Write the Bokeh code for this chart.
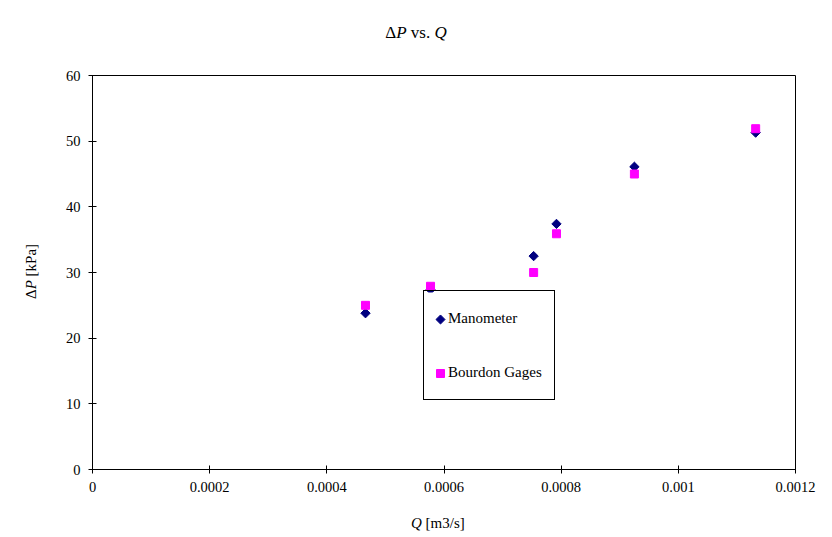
import numpy as np
from bokeh.plotting import figure
from bokeh.layouts import column, row
from bokeh.models import (Range1d, FixedTicker, CustomJSTickFormatter, Legend,
                          LegendItem, Div)
from bokeh.embed import file_html
from bokeh.resources import INLINE

# ---- data ----
q_flow = [0.000466, 0.000577, 0.000753, 0.000792, 0.000925, 0.001132]
dp_manometer = [23.8, 27.4, 32.5, 37.4, 46.1, 51.3]
dp_bourdon = [25.0, 27.9, 30.0, 35.9, 45.0, 51.9]
x_ticks = [0, 0.0002, 0.0004, 0.0006, 0.0008, 0.001, 0.0012]
y_ticks = [0, 10, 20, 30, 40, 50, 60]
series_names = ["Manometer", "Bourdon Gages"]

SERIF = "Liberation Serif"
NAVY = "#000080"
MAGENTA = "#FF00FF"

TITLE_H, XLAB_H, YLAB_W = 50, 30, 50
FIG_W, FIG_H = 832 - YLAB_W, 537 - TITLE_H - XLAB_H
FRAME_W, FRAME_H = 703, 394

p = figure(width=FIG_W, height=FIG_H, output_backend="svg", toolbar_location=None,
           x_range=Range1d(0, 0.0012), y_range=Range1d(0, 60),
           min_border_left=42, min_border_right=37,
           min_border_top=25, min_border_bottom=FIG_H - 25 - FRAME_H)
p.background_fill_color = "white"
p.border_fill_color = "white"
p.outline_line_color = "black"
p.outline_line_width = 1
p.outline_line_alpha = 1.0
p.grid.visible = False

for ax in (p.xaxis[0], p.yaxis[0]):
    ax.axis_label = None
    ax.axis_line_color = "black"
    ax.major_tick_line_color = "black"
    ax.minor_tick_line_color = None
    ax.major_tick_in = 4
    ax.major_tick_out = 4
    ax.major_label_text_font = SERIF
    ax.major_label_text_font_size = "14.5px"
    ax.major_label_text_color = "black"
    ax.major_label_standoff = 8

p.xaxis[0].ticker = FixedTicker(ticks=x_ticks)
p.yaxis[0].ticker = FixedTicker(ticks=y_ticks)
p.xaxis[0].formatter = CustomJSTickFormatter(
    code="return tick == 0 ? '0' : String(Number(tick.toPrecision(6)));")

# data series
p.scatter(q_flow, dp_manometer, marker="square", angle=np.pi / 4, size=6.6,
          fill_color=NAVY, line_color=NAVY)
p.scatter(q_flow, dp_bourdon, marker="square", size=8,
          fill_color=MAGENTA, line_color=MAGENTA)

# legend: white box and keys drawn in frame-pixel space above the data,
# border and labels from Bokeh's Legend
LEG_X, LEG_Y = 331, 69        # bottom-left of legend box, frame pixels
LEG_PAD, ITEM_H, LEG_SP, LEG_W = 12, 30, 24, 132
leg_h = 2 * LEG_PAD + 2 * ITEM_H + LEG_SP

p.extra_x_ranges = {"px_x": Range1d(0, FRAME_W)}
p.extra_y_ranges = {"px_y": Range1d(0, FRAME_H)}
p.quad(left=[LEG_X], right=[LEG_X + LEG_W], bottom=[LEG_Y], top=[LEG_Y + leg_h],
       fill_color="white", line_color=None, x_range_name="px_x", y_range_name="px_y")
key_x = LEG_X + LEG_PAD + 5
key1_y = LEG_Y + leg_h - LEG_PAD - ITEM_H / 2
key2_y = key1_y - ITEM_H - LEG_SP
p.scatter([key_x], [key1_y], marker="square", angle=np.pi / 4, size=6.4,
          fill_color=NAVY, line_color=NAVY, x_range_name="px_x", y_range_name="px_y")
p.scatter([key_x], [key2_y], marker="square", size=8,
          fill_color=MAGENTA, line_color=MAGENTA, x_range_name="px_x", y_range_name="px_y")

dummy_man = p.scatter([], [], marker="square", fill_alpha=0, line_alpha=0)
dummy_bou = p.scatter([], [], marker="square", fill_alpha=0, line_alpha=0)
legend = Legend(items=[LegendItem(label=series_names[0], renderers=[dummy_man]),
                       LegendItem(label=series_names[1], renderers=[dummy_bou])],
                location=(LEG_X, LEG_Y), orientation="vertical",
                padding=LEG_PAD, spacing=LEG_SP, glyph_width=10, glyph_height=ITEM_H,
                label_height=ITEM_H, label_standoff=2,
                label_text_font=SERIF, label_text_font_size="15px",
                label_text_color="black",
                border_line_color="black", border_line_width=1, border_line_alpha=1.0,
                background_fill_alpha=0.0)
p.add_layout(legend)

FONT_CSS = "font-family:'Liberation Serif';color:black;white-space:nowrap;"

title_div = Div(
    text=(f'<div style="width:832px;height:{TITLE_H}px;box-sizing:border-box;'
          f'padding-top:23px;text-align:center;font-size:17px;line-height:20px;{FONT_CSS}">'
          'Δ<i>P</i> vs. <i>Q</i></div>'),
    width=832, height=TITLE_H, margin=0)

ylab_div = Div(
    text=(f'<div style="width:{FIG_H}px;height:{YLAB_W}px;box-sizing:border-box;'
          f'transform-origin:0 0;transform:rotate(-90deg) translate(-{FIG_H}px,0);'
          f'padding-left:208px;padding-top:21px;font-size:15px;line-height:20px;{FONT_CSS}">'
          'Δ<i>P</i> [kPa]</div>'),
    width=YLAB_W, height=FIG_H, margin=0)

xlab_div = Div(
    text=(f'<div style="width:832px;height:{XLAB_H}px;box-sizing:border-box;'
          f'padding-left:411px;padding-top:6px;font-size:15px;line-height:20px;{FONT_CSS}">'
          '<i>Q</i> [m3/s]</div>'),
    width=832, height=XLAB_H, margin=0)

layout = column(title_div, row(ylab_div, p, spacing=0), xlab_div, spacing=0)

open("out.html", "w").write(file_html(layout, INLINE))
